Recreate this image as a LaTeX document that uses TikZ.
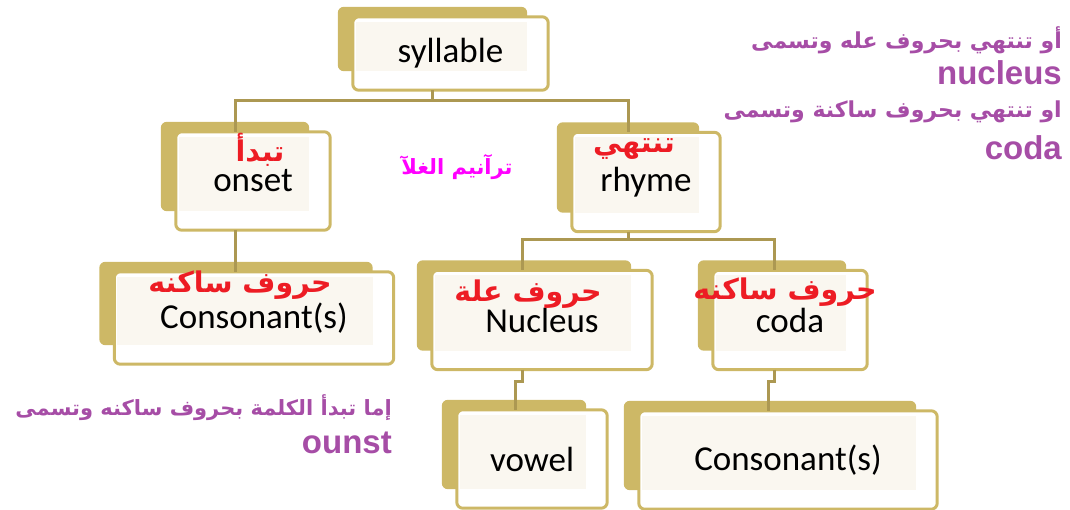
\documentclass[tikz,border=0pt]{standalone}
\usepackage{fontspec}
\setmainfont{Carlito}
\newfontfamily\arfont[Script=Arabic,BoldFont={DejaVu Sans Bold}]{DejaVu Sans}
\newfontfamily\latfont{Liberation Sans}
\TeXXeTstate=1
\usetikzlibrary{positioning}
\pgfdeclarelayer{back}
\pgfsetlayers{back,main}
\definecolor{gold}{RGB}{205,184,102}
\definecolor{linkgold}{RGB}{172,152,82}
\definecolor{cream}{RGB}{250,247,240}
\definecolor{arred}{RGB}{237,28,36}
\definecolor{purp}{RGB}{166,77,166}
\definecolor{pinkish}{RGB}{255,0,255}
\tikzset{>=stealth,
  box/.style={inner sep=0pt, font=\fontsize{35}{38}\selectfont},
  front/.style={draw=gold, line width=3pt, fill=white, rounded corners=6pt},
  link/.style={draw=linkgold, line width=3pt},
  redar/.style={text=arred, font=\arfont\bfseries\fontsize{28.5}{31}\selectfont},
  note/.style={text=purp, anchor=east, inner sep=0pt, font=\arfont\bfseries\fontsize{22}{26}\selectfont},
  latnote/.style={text=purp, anchor=east, inner sep=0pt, font=\latfont\bfseries\fontsize{33}{36}\selectfont}}

\begin{document}
\begin{tikzpicture}[x=1pt,y=-1pt]
    \useasboundingbox (0,0) rectangle (1070,510);
    % boxes
    \node[box, minimum width=195pt, minimum height=73pt] (syllable) at (450.5,53.5) {syllable};
    \node[box, minimum width=154pt, minimum height=98pt] (onset) at (253,181) {onset};
    \node[box, minimum width=148pt, minimum height=99pt] (rhyme) at (646,182) {rhyme};
    \node[box, minimum width=279pt, minimum height=92pt] (cons1) at (254,318) {Consonant(s)};
    \node[box, minimum width=220pt, minimum height=99pt] (nucleus) at (542,320) {Nucleus};
    \node[box, minimum width=154pt, minimum height=99pt] (coda) at (790,320) {coda};
    \node[box, minimum width=150pt, minimum height=98pt] (vowel) at (532,459) {vowel};
    \node[box, minimum width=298pt, minimum height=98pt] (cons2) at (788,460) {Consonant(s)};
    \begin{pgfonlayer}{back}
    \foreach \n in {syllable,onset,rhyme,cons1,nucleus,coda,vowel,cons2} {
      \fill[gold, rounded corners=6pt] ([xshift=-15pt,yshift=10pt]\n.north west) rectangle ([xshift=-21pt,yshift=19pt]\n.south east);
      \draw[front] (\n.north west) rectangle (\n.south east);
      \fill[cream] ([xshift=3pt,yshift=-5pt]\n.north west) rectangle ([xshift=-21pt,yshift=19pt]\n.south east);
    }
    \end{pgfonlayer}
    % connectors
    \draw[link] ([xshift=-18pt]syllable.south) -- ++(0,10) -| ([xshift=-18pt]onset.north);
    \draw[link] ([xshift=-18pt]syllable.south) -- ++(0,10) -| ([xshift=-18pt]rhyme.north);
    \draw[link] ([xshift=-18pt]onset.south) -- ([xshift=-19pt]cons1.north);
    \draw[link] ([xshift=-18pt]rhyme.south) -- ++(0,8) -| ([xshift=-20pt]nucleus.north);
    \draw[link] ([xshift=-18pt]rhyme.south) -- ++(0,8) -| ([xshift=-16pt]coda.north);
    \draw[link] ([xshift=-20pt]nucleus.south) -- ++(0,12) -| ([xshift=-17pt]vowel.north);
    \draw[link] ([xshift=-16pt]coda.south) -- ++(0,12) -| ([xshift=-20pt]cons2.north);
    % red arabic labels
    \node[redar] (onsetar) at ([xshift=7pt,yshift=31pt]onset.center) {\beginR تبدأ\endR};
    \node[redar] (rhymear) at ([xshift=-12pt,yshift=33pt]rhyme.center) {\beginR تنتهي\endR};
    \node[redar] (cons1ar) at ([xshift=-14pt,yshift=33pt]cons1.center) {\beginR حروف ساكنه\endR};
    \node[redar] (nucleusar) at ([xshift=-14pt,yshift=26pt]nucleus.center) {\beginR حروف علة\endR};
    \node[redar] (codaar) at ([xshift=-5pt,yshift=28pt]coda.center) {\beginR حروف ساكنه\endR};
    \node[text=pinkish, font=\arfont\bfseries\fontsize{21}{24}\selectfont] (title) at (457,167) {\beginR ترآنيم الغلآ\endR};
    % notes
    \node[note] (noteA) at (1062,40) {\beginR أو تنتهي بحروف عله وتسمى\endR};
    \node[latnote] (noteB) at (1062,73) {nucleus};
    \node[note] (noteC) at (1062,112) {\beginR او تنتهي بحروف ساكنة وتسمى\endR};
    \node[latnote] (noteD) at (1062,148) {coda};
    \node[note, font=\arfont\bfseries\fontsize{21}{24}\selectfont] (noteE) at (392,408) {\beginR إما تبدأ الكلمة بحروف  ساكنه وتسمى\endR};
    \node[latnote] (noteF) at (392,443) {ounst};
\end{tikzpicture}
\end{document}
